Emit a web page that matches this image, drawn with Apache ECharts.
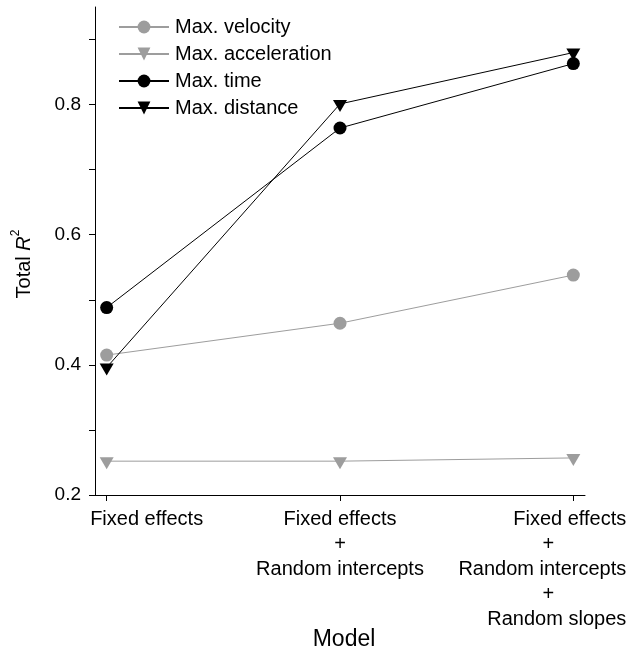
<!DOCTYPE html>
<html>
<head>
<meta charset="utf-8">
<script src="https://cdn.jsdelivr.net/npm/echarts@6/dist/echarts.min.js"></script>
<style>
html,body{margin:0;padding:0;background:#fff;}
#chart{width:627px;height:655px;}
</style>
</head>
<body>
<div id="chart"></div>
<script>
// ---- data ----
var categoryLines = [
  ['Fixed effects'],
  ['Fixed effects', '+', 'Random intercepts'],
  ['Fixed effects', '+', 'Random intercepts', '+', 'Random slopes']
];
var seriesNames = ['Max. velocity', 'Max. acceleration', 'Max. time', 'Max. distance'];
var maxVelocity     = [0.415, 0.464, 0.538];
var maxAcceleration = [0.252, 0.252, 0.257];
var maxTime         = [0.488, 0.764, 0.863];
var maxDistance     = [0.396, 0.801, 0.880];
var yTickLabels = [0.2, 0.4, 0.6, 0.8];
var yTicks = [0.2, 0.3, 0.4, 0.5, 0.6, 0.7, 0.8, 0.9];

function pts(arr) { return arr.map(function (v, i) { return [i, v]; }); }

var FONT = 'Liberation Sans';
var GRAY = '#9d9d9d';
var DOWN_TRI = 'path://M0,0 L2,0 L1,1.732 Z';

var chart = echarts.init(document.getElementById('chart'), null, {renderer: 'canvas'});

function mkSeries(name, data, color, symbol, size, offset) {
  return {
    name: name,
    type: 'line',
    data: pts(data),
    symbol: symbol,
    symbolSize: size,
    symbolOffset: offset,
    showAllSymbol: true,
    lineStyle: {color: color, width: 1},
    itemStyle: {color: color},
    emphasis: {disabled: true},
    animation: false,
    z: color === GRAY ? 2 : 3
  };
}

var option = {
  backgroundColor: '#fff',
  animation: false,
  textStyle: {fontFamily: FONT},
  legend: {
    orient: 'vertical',
    left: 113,
    top: 12,
    itemWidth: 50,
    itemHeight: 16,
    itemGap: 7,
    textStyle: {fontFamily: FONT, fontSize: 20, color: '#000', lineHeight: 20, padding: [0, 0, 0, 1]},
    data: seriesNames
  },
  grid: {left: 95, right: 42, top: 7, bottom: 160, containLabel: false, outerBoundsMode: 'none'},
  xAxis: {
    type: 'value',
    min: -0.05,
    max: 2.05,
    splitLine: {show: false},
    axisLine: {onZero: false, lineStyle: {color: '#000', width: 1}},
    axisTick: {show: true, length: 6, lineStyle: {color: '#000'}, customValues: [0, 1, 2]},
    axisLabel: {
      customValues: [0, 1, 2],
      margin: 12,
      fontFamily: FONT,
      fontSize: 20,
      color: '#000',
      lineHeight: 25,
      formatter: function (v) {
        var i = Math.round(v);
        var lines = categoryLines[i];
        var key = ['a', 'b', 'c'][i];
        return lines.map(function (t) {
          return t === '+' ? '{' + key + 'p|+}' : '{' + key + '|' + t + '}';
        }).join('\n');
      },
      rich: {
        a: {fontFamily: FONT, fontSize: 20, lineHeight: 25, color: '#000', align: 'left', padding: [0, 0, 0, 80]},
        b: {fontFamily: FONT, fontSize: 20, lineHeight: 25, color: '#000', align: 'center'},
        bp: {fontFamily: FONT, fontSize: 20, lineHeight: 25, color: '#000', align: 'center'},
        c: {fontFamily: FONT, fontSize: 20, lineHeight: 25, color: '#000', align: 'right', padding: [0, 62, 0, 0]},
        cp: {fontFamily: FONT, fontSize: 20, lineHeight: 25, color: '#000', align: 'center', padding: [0, 50, 0, 0]}
      }
    },
    name: 'Model',
    nameLocation: 'middle',
    nameGap: 133,
    nameMoveOverlap: false,
    nameTextStyle: {fontFamily: FONT, fontSize: 23, color: '#000', padding: [0, 0, 0, 8]}
  },
  yAxis: {
    type: 'value',
    min: 0.2,
    max: 0.95,
    splitLine: {show: false},
    axisLine: {show: true, onZero: false, lineStyle: {color: '#000', width: 1}},
    axisTick: {show: true, length: 6, lineStyle: {color: '#000'}, customValues: yTicks},
    axisLabel: {
      customValues: yTickLabels,
      margin: 14,
      fontFamily: FONT,
      fontSize: 19,
      color: '#000',
      formatter: function (v) { return v.toFixed(1); }
    },
    name: '{n|Total }{i|R}{s|2}',
    nameLocation: 'middle',
    nameGap: 61,
    nameRotate: 90,
    nameMoveOverlap: false,
    nameTextStyle: {
      padding: [0, 26, 0, 0],
      rich: {
        n: {fontFamily: FONT, fontSize: 20, color: '#000', lineHeight: 24, verticalAlign: 'bottom'},
        i: {fontFamily: FONT, fontSize: 20, color: '#000', fontStyle: 'italic', lineHeight: 24, verticalAlign: 'bottom'},
        s: {fontFamily: FONT, fontSize: 12, color: '#000', lineHeight: 24, verticalAlign: 'top'}
      }
    }
  },
  series: [
    mkSeries(seriesNames[0], maxVelocity, GRAY, 'circle', 13, [0, 0]),
    mkSeries(seriesNames[1], maxAcceleration, GRAY, DOWN_TRI, [14, 12], [0, 2]),
    mkSeries(seriesNames[2], maxTime, '#000', 'circle', 13, [0, 0]),
    mkSeries(seriesNames[3], maxDistance, '#000', DOWN_TRI, [14, 12], [0, 2])
  ]
};
chart.setOption(option);
</script>
</body>
</html>
